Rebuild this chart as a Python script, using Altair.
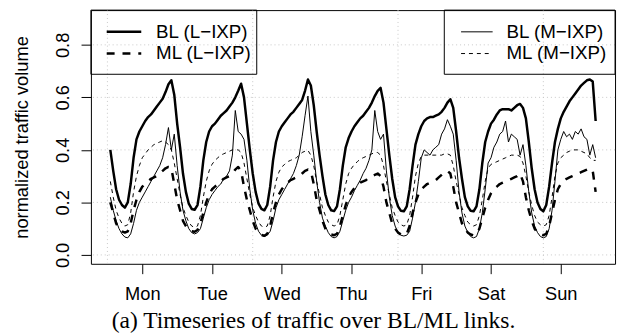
import altair as alt
import pandas as pd

# ---------------- data ----------------
days = ["Mon", "Tue", "Wed", "Thu", "Fri", "Sat", "Sun"]
day_tick_hours = [12, 36, 60, 84, 108, 132, 156]
grid_hours = [0, 50, 100, 150]
grid_values = [0.0, 0.2, 0.4, 0.6, 0.8]
y_ticks = [0.0, 0.2, 0.4, 0.6, 0.8]

series_names = ["BL (L\u2212IXP)", "ML (L\u2212IXP)", "BL (M\u2212IXP)", "ML (M\u2212IXP)"]
caption_text = "(a) Timeseries of traffic over BL/ML links."
y_title = "normalized traffic volume"

# BL (L-IXP), hourly, one list per day
bl_l_mon = [0.40, 0.32, 0.25, 0.21, 0.19, 0.18, 0.20, 0.27, 0.37, 0.44, 0.47, 0.49, 0.51, 0.525, 0.535, 0.55, 0.565, 0.58, 0.595, 0.62, 0.65, 0.665, 0.61, 0.50]
bl_l_tue = [0.41, 0.31, 0.24, 0.195, 0.175, 0.172, 0.19, 0.26, 0.36, 0.43, 0.47, 0.49, 0.50, 0.515, 0.53, 0.54, 0.55, 0.565, 0.58, 0.60, 0.625, 0.652, 0.60, 0.50]
bl_l_wed = [0.40, 0.31, 0.24, 0.195, 0.175, 0.17, 0.19, 0.26, 0.36, 0.43, 0.47, 0.49, 0.505, 0.52, 0.535, 0.545, 0.56, 0.575, 0.59, 0.625, 0.668, 0.645, 0.57, 0.47]
bl_l_thu = [0.38, 0.30, 0.23, 0.19, 0.17, 0.167, 0.185, 0.25, 0.34, 0.41, 0.445, 0.47, 0.49, 0.505, 0.52, 0.53, 0.545, 0.56, 0.58, 0.605, 0.625, 0.636, 0.58, 0.48]
bl_l_fri = [0.38, 0.29, 0.22, 0.185, 0.168, 0.166, 0.185, 0.25, 0.34, 0.42, 0.46, 0.49, 0.51, 0.52, 0.525, 0.525, 0.53, 0.535, 0.545, 0.56, 0.58, 0.593, 0.56, 0.47]
bl_l_sat = [0.37, 0.29, 0.22, 0.185, 0.168, 0.166, 0.185, 0.25, 0.35, 0.43, 0.47, 0.50, 0.515, 0.535, 0.55, 0.555, 0.555, 0.555, 0.55, 0.56, 0.57, 0.575, 0.56, 0.52]
bl_l_sun = [0.43, 0.33, 0.25, 0.20, 0.175, 0.166, 0.19, 0.26, 0.35, 0.43, 0.48, 0.52, 0.545, 0.565, 0.585, 0.60, 0.615, 0.63, 0.645, 0.655, 0.665, 0.668, 0.66, 0.51]

# ML (L-IXP)
ml_l_mon = [0.20, 0.16, 0.12, 0.10, 0.09, 0.085, 0.09, 0.12, 0.17, 0.21, 0.24, 0.26, 0.27, 0.28, 0.29, 0.295, 0.30, 0.31, 0.32, 0.33, 0.335, 0.33, 0.27, 0.21]
ml_l_tue = [0.17, 0.13, 0.11, 0.095, 0.09, 0.088, 0.095, 0.12, 0.16, 0.20, 0.23, 0.25, 0.26, 0.27, 0.28, 0.29, 0.295, 0.30, 0.31, 0.325, 0.335, 0.32, 0.26, 0.21]
ml_l_wed = [0.17, 0.13, 0.10, 0.085, 0.076, 0.073, 0.08, 0.11, 0.16, 0.20, 0.23, 0.25, 0.265, 0.275, 0.285, 0.29, 0.295, 0.30, 0.31, 0.32, 0.325, 0.32, 0.27, 0.21]
ml_l_thu = [0.17, 0.13, 0.10, 0.085, 0.078, 0.075, 0.08, 0.11, 0.15, 0.19, 0.22, 0.24, 0.255, 0.265, 0.275, 0.28, 0.285, 0.295, 0.30, 0.305, 0.31, 0.30, 0.26, 0.20]
ml_l_fri = [0.16, 0.12, 0.10, 0.085, 0.078, 0.075, 0.08, 0.11, 0.16, 0.20, 0.23, 0.25, 0.26, 0.27, 0.275, 0.28, 0.285, 0.295, 0.305, 0.315, 0.32, 0.31, 0.26, 0.20]
ml_l_sat = [0.16, 0.12, 0.10, 0.085, 0.078, 0.075, 0.08, 0.10, 0.14, 0.18, 0.21, 0.235, 0.25, 0.26, 0.27, 0.275, 0.28, 0.285, 0.29, 0.295, 0.30, 0.31, 0.28, 0.22]
ml_l_sun = [0.17, 0.13, 0.10, 0.085, 0.078, 0.075, 0.08, 0.11, 0.16, 0.21, 0.25, 0.27, 0.28, 0.29, 0.295, 0.30, 0.305, 0.31, 0.315, 0.32, 0.325, 0.33, 0.32, 0.24]

# BL (M-IXP)
bl_m_mon = [0.22, 0.17, 0.13, 0.10, 0.08, 0.068, 0.065, 0.08, 0.12, 0.17, 0.20, 0.22, 0.24, 0.26, 0.28, 0.30, 0.32, 0.34, 0.37, 0.42, 0.485, 0.40, 0.46, 0.34]
bl_m_tue = [0.24, 0.17, 0.13, 0.10, 0.085, 0.08, 0.085, 0.10, 0.14, 0.18, 0.21, 0.23, 0.245, 0.26, 0.27, 0.29, 0.30, 0.32, 0.38, 0.55, 0.47, 0.46, 0.44, 0.36]
bl_m_wed = [0.25, 0.17, 0.12, 0.09, 0.075, 0.07, 0.075, 0.09, 0.13, 0.18, 0.21, 0.23, 0.25, 0.27, 0.29, 0.31, 0.34, 0.38, 0.45, 0.53, 0.605, 0.47, 0.38, 0.28]
bl_m_thu = [0.20, 0.14, 0.11, 0.085, 0.07, 0.065, 0.07, 0.09, 0.13, 0.17, 0.20, 0.22, 0.245, 0.265, 0.285, 0.31, 0.33, 0.36, 0.40, 0.55, 0.47, 0.44, 0.46, 0.32]
bl_m_fri = [0.22, 0.15, 0.11, 0.085, 0.075, 0.072, 0.075, 0.09, 0.14, 0.20, 0.28, 0.37, 0.40, 0.39, 0.38, 0.40, 0.41, 0.42, 0.46, 0.48, 0.515, 0.49, 0.46, 0.36]
bl_m_sat = [0.24, 0.16, 0.11, 0.085, 0.07, 0.065, 0.07, 0.10, 0.16, 0.25, 0.35, 0.37, 0.41, 0.43, 0.46, 0.47, 0.51, 0.43, 0.46, 0.45, 0.44, 0.38, 0.42, 0.34]
bl_m_sun = [0.24, 0.16, 0.11, 0.085, 0.07, 0.065, 0.07, 0.10, 0.17, 0.28, 0.40, 0.44, 0.47, 0.45, 0.46, 0.44, 0.47, 0.46, 0.48, 0.45, 0.44, 0.38, 0.42, 0.37]

# ML (M-IXP)
ml_m_mon = [0.28, 0.22, 0.17, 0.14, 0.12, 0.11, 0.115, 0.16, 0.24, 0.30, 0.34, 0.37, 0.385, 0.40, 0.41, 0.42, 0.425, 0.43, 0.435, 0.43, 0.42, 0.40, 0.35, 0.29]
ml_m_tue = [0.23, 0.18, 0.15, 0.125, 0.11, 0.105, 0.11, 0.15, 0.22, 0.28, 0.32, 0.345, 0.36, 0.37, 0.38, 0.385, 0.39, 0.395, 0.40, 0.40, 0.40, 0.39, 0.35, 0.29]
ml_m_wed = [0.23, 0.18, 0.15, 0.125, 0.11, 0.105, 0.11, 0.15, 0.22, 0.28, 0.315, 0.335, 0.345, 0.355, 0.36, 0.365, 0.37, 0.38, 0.39, 0.395, 0.398, 0.38, 0.34, 0.28]
ml_m_thu = [0.23, 0.18, 0.15, 0.125, 0.115, 0.11, 0.115, 0.15, 0.21, 0.27, 0.31, 0.33, 0.345, 0.355, 0.365, 0.37, 0.375, 0.38, 0.385, 0.39, 0.39, 0.38, 0.34, 0.28]
ml_m_fri = [0.23, 0.18, 0.15, 0.125, 0.115, 0.11, 0.115, 0.15, 0.22, 0.30, 0.35, 0.375, 0.38, 0.38, 0.38, 0.38, 0.38, 0.38, 0.38, 0.385, 0.385, 0.38, 0.34, 0.28]
ml_m_sat = [0.23, 0.18, 0.15, 0.125, 0.115, 0.11, 0.115, 0.15, 0.21, 0.28, 0.33, 0.345, 0.35, 0.355, 0.36, 0.365, 0.37, 0.375, 0.38, 0.38, 0.38, 0.375, 0.35, 0.30]
ml_m_sun = [0.24, 0.19, 0.15, 0.125, 0.115, 0.11, 0.115, 0.15, 0.22, 0.30, 0.35, 0.37, 0.38, 0.39, 0.395, 0.40, 0.40, 0.40, 0.395, 0.39, 0.385, 0.37, 0.36, 0.36]

bl_l = bl_l_mon + bl_l_tue + bl_l_wed + bl_l_thu + bl_l_fri + bl_l_sat + bl_l_sun
ml_l = ml_l_mon + ml_l_tue + ml_l_wed + ml_l_thu + ml_l_fri + ml_l_sat + ml_l_sun
bl_m = bl_m_mon + bl_m_tue + bl_m_wed + bl_m_thu + bl_m_fri + bl_m_sat + bl_m_sun
ml_m = ml_m_mon + ml_m_tue + ml_m_wed + ml_m_thu + ml_m_fri + ml_m_sat + ml_m_sun
hours = list(range(1, len(bl_l) + 1))

# ---------------- styling ----------------
SANS = "Liberation Sans"
SERIF = "Liberation Serif"
FS = 18.5

xs = alt.Scale(domain=[-5.68, 174.68], nice=False, zero=False)
ys = alt.Scale(domain=[-0.0338, 0.9323], nice=False, zero=False)

label_expr = "[" + ",".join("'%s'" % d for d in days) + "][round((datum.value - 12) / 24)]"

xaxis = alt.Axis(values=day_tick_hours, labelExpr=label_expr, domain=False, grid=False,
                 tickSize=10, tickColor="black", tickWidth=1, labelFont=SANS,
                 labelFontSize=FS, labelColor="black", labelPadding=11, title=None,
                 labelFlush=False, labelOverlap=False)
yaxis = alt.Axis(values=y_ticks, format=".1f", labelAngle=270, labelAlign="center",
                 labelBaseline="alphabetic", labelPadding=13, tickSize=10,
                 tickColor="black", tickWidth=1, labelFont=SANS, labelFontSize=FS,
                 labelColor="black", domain=False, grid=False, labelFlush=False,
                 labelOverlap=False, title=y_title, titleFont=SANS, titleFontSize=FS,
                 titleFontWeight="normal", titleColor="black", titleAngle=270,
                 titleX=-64, titleY=128.5, titleAlign="center",
                 titleBaseline="alphabetic")


def xenc(field):
    return alt.X(field, type="quantitative", scale=xs, axis=xaxis)


def yenc(field):
    return alt.Y(field, type="quantitative", scale=ys, axis=yaxis)


one = pd.DataFrame({"k": [0]})

# grid
vgrid = alt.Chart(pd.DataFrame({"g": grid_hours})).mark_rule(
    color="#c8c8c8", strokeWidth=1, strokeDash=[1, 3]).encode(x=xenc("g"))
hgrid = alt.Chart(pd.DataFrame({"g": grid_values})).mark_rule(
    color="#c8c8c8", strokeWidth=1, strokeDash=[1, 3]).encode(y=yenc("g"))


def series_line(values, width, dash=None):
    d = pd.DataFrame({"hour": hours, "value": values})
    kw = dict(color="black", strokeWidth=width, strokeJoin="round", strokeCap="butt")
    if dash is not None:
        kw["strokeDash"] = dash
    return alt.Chart(d).mark_line(**kw).encode(x=xenc("hour"), y=yenc("value"))


line_bl_m = series_line(bl_m, 1)
line_ml_m = series_line(ml_m, 1, [4, 4])
line_ml_l = series_line(ml_l, 2.5, [8, 8])
line_bl_l = series_line(bl_l, 2.5)

# legends (drawn by hand, R style boxes)
def box(x0, x1, y0, y1):
    return alt.Chart(one).mark_rect(fillOpacity=0, stroke="black", strokeWidth=1).encode(
        x=alt.value(x0), x2=alt.value(x1), y=alt.value(y0), y2=alt.value(y1))


def sample(x0, x1, y, width, dash=None):
    kw = dict(color="black", strokeWidth=width, strokeCap="butt")
    if dash is not None:
        kw["strokeDash"] = dash
    return alt.Chart(one).mark_rule(**kw).encode(
        x=alt.value(x0), x2=alt.value(x1), y=alt.value(y))


def label(x, y, txt):
    return alt.Chart(pd.DataFrame({"t": [txt]})).mark_text(
        align="left", baseline="middle", font=SANS, fontSize=19, color="black").encode(
        x=alt.value(x), y=alt.value(y), text="t:N")


legend_layers = [
    box(0, 168, 0, 65),
    sample(16, 51, 22, 2.5), label(66, 22, series_names[0]),
    sample(16, 51, 44, 2.5, [8, 8]), label(66, 44, series_names[1]),
    box(358, 531, 0, 65),
    sample(375, 407, 22, 1), label(421, 22, series_names[2]),
    sample(375, 407, 44, 1, [4, 4]), label(421, 44, series_names[3]),
]

caption = alt.Chart(pd.DataFrame({"t": [caption_text]})).mark_text(
    align="center", baseline="alphabetic", font=SERIF, fontSize=23.8, color="black").encode(
    x=alt.value(225.5), y=alt.value(322), text="t:N")

chart = alt.layer(
    vgrid, hgrid, line_bl_m, line_ml_m, line_ml_l, line_bl_l, *legend_layers, caption
).properties(
    width=531, height=257,
    padding={"left": 84, "top": 0, "right": 4, "bottom": 70},
    autosize=alt.AutoSizeParams(type="none"),
    background="white",
).configure_view(stroke="black", strokeWidth=1)

chart.save("out.html", embed_options={"renderer": "svg", "actions": False})
